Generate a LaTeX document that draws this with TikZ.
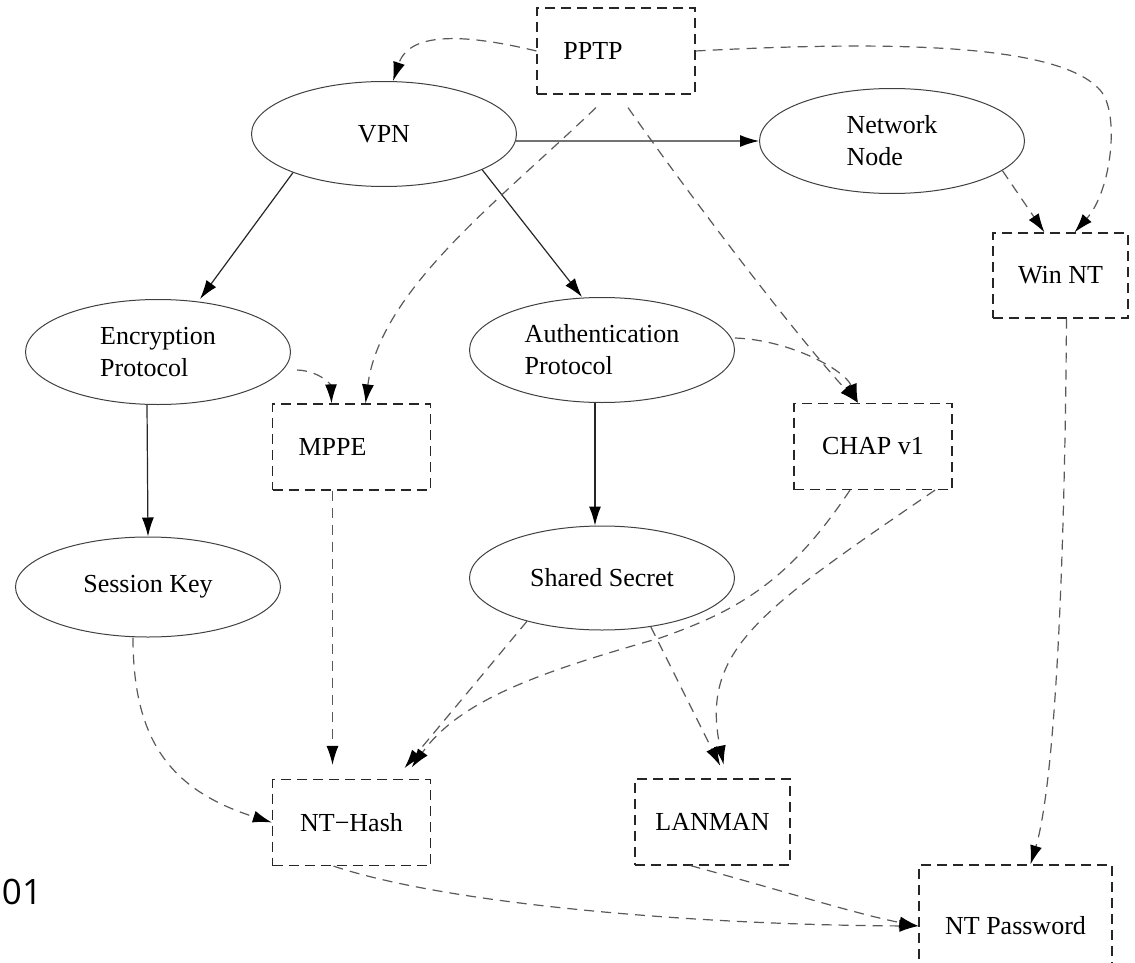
\documentclass[tikz,border=0pt]{standalone}
\usepackage{fontspec}
\setmainfont{Liberation Serif}
\newfontfamily\numfont{Open Sans}
\usetikzlibrary{arrows.meta,shapes.geometric}
\begin{document}
\begin{tikzpicture}[x=0.5pt,y=-0.5pt,
    every node/.style={font=\fontsize{13}{16}\selectfont},
    oval/.style={ellipse,draw=black!75,line width=0.5pt,minimum width=132.5pt,
      minimum height=52.5pt,inner sep=0pt,align=left},
    dbox/.style={rectangle,draw=black!85,line width=0.6pt,dash pattern=on 5pt off 3pt,
      minimum width=79pt,minimum height=43pt,inner sep=0pt},
    link/.style={draw=black!85,line width=0.6pt,-{Latex[length=9.5pt,width=6pt,color=black]}},
    dlink/.style={draw=black!65,line width=0.6pt,dash pattern=on 5pt off 3.5pt,
      -{Latex[length=9.5pt,width=6pt,color=black]}}]
      \clip (0,0) rectangle (1135,963);
      \node[dbox] (pptp) at (616,51) {PPTP\hspace*{23pt}};
      \node[oval] (vpn) at (384,134) {VPN};
      \node[oval] (netnode) at (892,141) {Network\\Node};
      \node[dbox,minimum width=67.5pt,minimum height=42.5pt] (winnt) at (1060.5,275.5) {Win NT};
      \node[oval] (enc) at (158,352) {Encryption\\Protocol};
      \node[oval] (auth) at (602,350) {Authentication\\Protocol};
      \node[dbox] (mppe) at (351.5,447) {MPPE\hspace*{19pt}};
      \node[dbox] (chap) at (873,446.5) {CHAP v1};
      \node[oval,minimum height=50pt] (session) at (148,587) {Session Key};
      \node[oval,minimum height=52pt] (shared) at (602,578) {Shared Secret};
      \node[dbox] (nthash) at (351.5,822.5) {NT−Hash};
      \node[dbox,minimum width=77.5pt] (lanman) at (712.5,822) {LANMAN};
      \node[dbox,minimum width=96.5pt,minimum height=61pt] (ntpw) at (1015.5,926) {NT Password};
      \node[font=\numfont\fontsize{17.5}{20}\selectfont] (num) at (22,892) {01};
      % solid links
      \begin{scope}
        \draw[link] (vpn.-3) -- (netnode.west);
        \draw[link] (vpn.-157) -- ([xshift=21pt]enc.north);
        \draw[link] (vpn.-20) -- ([xshift=-10pt]auth.north);
        \draw[link] ([xshift=-5.5pt]enc.south) -- (session.north);
        \draw[link] ([xshift=-3.5pt]auth.south) -- ([xshift=-3.5pt]shared.north);
      \end{scope}
      % dashed links
      \begin{scope}
        \draw[dlink] (pptp.west) .. controls (470,35) and (410,30) .. ([xshift=4.5pt]vpn.north);
        \draw[dlink] (pptp.east) .. controls (900,40) and (1060,45) .. (1100,90)
          .. controls (1120,112) and (1112,190) .. ([xshift=7pt]winnt.north);
        \draw[dlink] ([shift={(-10pt,-6.5pt)}]pptp.south) .. controls (500,200) and (380,290) .. ([xshift=7pt]mppe.north);
        \draw[dlink] ([shift={(6pt,-6.5pt)}]pptp.south) .. controls (700,210) and (800,340) .. ([xshift=-7.5pt]chap.north);
        \draw[dlink] (netnode.-15) -- ([xshift=-8pt]winnt.north);
        \draw[dlink] ([xshift=3pt]winnt.south) .. controls (1064,650) and (1050,800) .. ([xshift=7.5pt]ntpw.north);
        \draw[dlink] ([shift={(3pt,-9pt)}]enc.east) .. controls (320,371) and (331,385) .. ([xshift=-10pt]mppe.north);
        \draw[dlink] ([yshift=6pt]auth.east) .. controls (790,340) and (845,370) .. ([xshift=-7.5pt]chap.north);
        \draw[dlink,shorten >=7pt] ([xshift=-9.5pt]mppe.south) -- ([xshift=-9.5pt]nthash.north);
        \draw[dlink] ([xshift=-7.5pt]session.south) .. controls (133,740) and (170,790) .. (nthash.west);
        \draw[dlink,shorten >=7pt] (shared.-150) -- ([xshift=22pt]nthash.north);
        \draw[dlink,shorten >=7pt] ([xshift=-11.5pt]chap.south) .. controls (790,580) and (740,610) .. (660,638)
          .. controls (540,672) and (460,700) .. ([xshift=26pt]nthash.north);
        \draw[dlink,shorten >=7pt] (shared.-45) -- ([xshift=7pt]lanman.north);
        \draw[dlink,shorten >=7pt] ([xshift=31pt]chap.south) .. controls (760,610) and (700,650) .. ([xshift=7pt]lanman.north);
        \draw[dlink] ([xshift=-9pt]nthash.south) .. controls (450,905) and (700,925) .. (ntpw.west);
        \draw[dlink] ([xshift=-11pt]lanman.south) .. controls (780,890) and (860,915) .. (ntpw.west);
      \end{scope}
    \end{tikzpicture}
\end{document}
